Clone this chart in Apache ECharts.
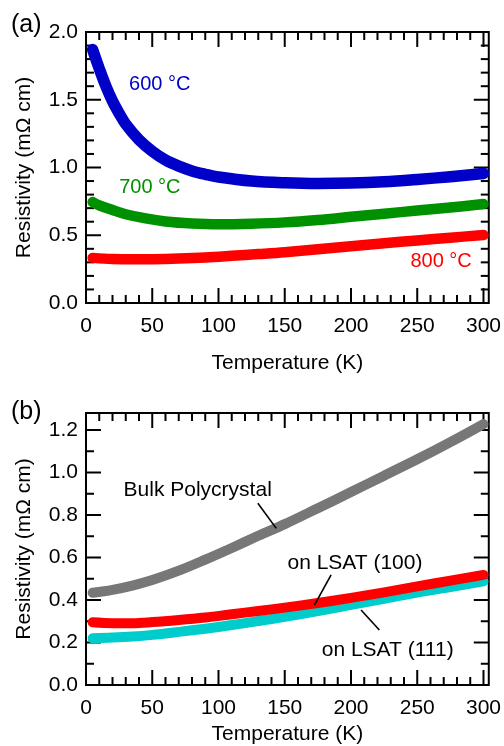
<!DOCTYPE html>
<html>
<head>
<meta charset="utf-8">
<script src="https://cdn.jsdelivr.net/npm/echarts@6/dist/echarts.min.js"></script>
<style>
html,body{margin:0;padding:0;background:#fff;}
#chart{width:504px;height:746px;}
</style>
</head>
<body>
<div id="chart"></div>
<script>
// ---------- Data ----------
// Panel (a): films grown at different temperatures
const tempA600 = [5, 10, 15, 20, 25, 30, 40, 50, 60, 70, 80, 90, 100, 125, 150, 175, 200, 225, 250, 275, 300];
const rho600   = [1.87, 1.73, 1.60, 1.49, 1.40, 1.32, 1.205, 1.12, 1.055, 1.01, 0.975, 0.95, 0.93, 0.90, 0.887, 0.882, 0.885, 0.895, 0.912, 0.932, 0.956];

const tempA700 = [5, 10, 20, 30, 45, 60, 80, 100, 125, 150, 175, 200, 225, 250, 275, 300];
const rho700   = [0.745, 0.72, 0.686, 0.655, 0.624, 0.602, 0.587, 0.581, 0.585, 0.595, 0.613, 0.636, 0.659, 0.682, 0.705, 0.73];

const tempA800 = [5, 20, 35, 50, 70, 90, 110, 130, 150, 175, 200, 225, 250, 275, 300];
const rho800   = [0.333, 0.325, 0.322, 0.323, 0.328, 0.336, 0.348, 0.361, 0.375, 0.397, 0.419, 0.441, 0.462, 0.482, 0.502];

// Panel (b): bulk vs. films on LSAT
const tempB      = [5, 20, 35, 50, 70, 90, 110, 130, 150, 175, 200, 225, 250, 275, 300];
const rhoBulk    = [0.434, 0.448, 0.468, 0.494, 0.538, 0.59, 0.645, 0.702, 0.757, 0.832, 0.908, 0.985, 1.062, 1.143, 1.228];
const rhoLsat100 = [0.295, 0.291, 0.291, 0.296, 0.306, 0.318, 0.333, 0.348, 0.364, 0.386, 0.41, 0.436, 0.464, 0.491, 0.518];
const rhoLsat111 = [0.22, 0.223, 0.228, 0.236, 0.25, 0.265, 0.282, 0.301, 0.321, 0.348, 0.377, 0.406, 0.435, 0.461, 0.488];

// Axis settings / tick values
const xMin = 0, xMax = 304, xInterval = 50, xMinorStep = 10, xLastTick = 300;
const yMinA = 0, yMaxA = 2.0, yIntervalA = 0.5, yMinorStepA = 0.1, yLastTickA = 2.0;
const yMinB = 0, yMaxB = 1.28, yIntervalB = 0.2, yMinorStepB = 0.1, yLastTickB = 1.2;

// Annotations [text, T, rho, colour]
const labelsA = [["600 °C", 55.7, 1.614, "#0000C8"], ["700 °C", 48.2, 0.854, "#009100"], ["800 °C", 268, 0.308, "#FF0000"]];
const labelsB = [["Bulk Polycrystal", 84.3, 0.918], ["on LSAT (100)", 203, 0.574], ["on LSAT (111)", 227.7, 0.165]];
const leadersB = [[[129.7, 0.855], [143.6, 0.737]], [[185, 0.518], [172.4, 0.376]], [[207.6, 0.353], [221.4, 0.259]]];

// ---------- Chart ----------
const FONT = "'Liberation Sans', Arial, sans-serif";
const zip = (xs, ys) => xs.map((x, i) => [x, ys[i]]);
const onTick = (v, step) => Math.abs(v / step - Math.round(v / step)) < 1e-6;
const MAJOR_LEN = 15, MINOR_LEN = 8;

function tickItems(yMin, yLast, yMajor, yMinor) {
  const items = [];
  const nx = Math.round(xLastTick / xMinorStep);
  for (let i = 0; i <= nx; i++) {
    const v = +(xMin + i * xMinorStep).toFixed(6);
    const major = onTick(v, xInterval) ? 1 : 0;
    items.push([0, v, major], [1, v, major]);
  }
  const ny = Math.round((yLast - yMin) / yMinor);
  for (let i = 0; i <= ny; i++) {
    const v = +(yMin + i * yMinor).toFixed(6);
    const major = onTick(v, yMajor) ? 1 : 0;
    items.push([2, v, major], [3, v, major]);
  }
  return items;
}
function tickSeries(xi, yi, yMin, yMax, yLast, yMajor, yMinor) {
  return {
    type: 'custom', xAxisIndex: xi, yAxisIndex: yi, clip: false, silent: true, z: 1,
    animation: false, encode: { x: 1, y: 1 },
    data: tickItems(yMin, yLast, yMajor, yMinor),
    renderItem: function (params, api) {
      const side = api.value(0), v = api.value(1), len = api.value(2) ? MAJOR_LEN : MINOR_LEN;
      let p, q;
      if (side === 0) { p = api.coord([v, yMin]); q = [p[0], p[1] - len]; }
      else if (side === 1) { p = api.coord([v, yMax]); q = [p[0], p[1] + len]; }
      else if (side === 2) { p = api.coord([xMin, v]); q = [p[0] + len, p[1]]; }
      else { p = api.coord([xMax, v]); q = [p[0] - len, p[1]]; }
      return { type: 'line', shape: { x1: p[0], y1: p[1], x2: q[0], y2: q[1] },
        style: { stroke: '#000', lineWidth: 2, lineCap: 'butt' } };
    }
  };
}
function xAxis(grid, nameGap) {
  return { type: 'value', gridIndex: grid, position: 'bottom', min: xMin, max: xMax, interval: xInterval,
    axisLine: { show: false }, axisTick: { show: false }, minorTick: { show: false },
    splitLine: { show: false },
    axisLabel: { show: true, color: '#000', fontSize: 21, fontFamily: FONT, margin: 13,
      formatter: v => onTick(v, xInterval) ? String(v) : '' },
    name: 'Temperature (K)', nameLocation: 'middle', nameGap: nameGap,
    nameTextStyle: { color: '#000', fontSize: 21, fontFamily: FONT } };
}
function yAxis(grid, min, max, interval) {
  return { type: 'value', gridIndex: grid, position: 'left', min: min, max: max, interval: interval,
    axisLine: { show: false }, axisTick: { show: false }, minorTick: { show: false },
    splitLine: { show: false },
    axisLabel: { show: true, color: '#000', fontSize: 21, fontFamily: FONT, margin: 8,
      formatter: v => onTick(v, interval) ? v.toFixed(1) : '' },
    name: 'Resistivity (mΩ cm)', nameLocation: 'middle', nameGap: 51,
    nameTextStyle: { color: '#000', fontSize: 21, fontFamily: FONT } };
}
function line(name, data, color, width, xi, yi, extra) {
  return Object.assign({ name: name, type: 'line', xAxisIndex: xi, yAxisIndex: yi, data: data,
    smooth: 0.35, showSymbol: false, symbol: 'none', animation: false, z: 3,
    lineStyle: { color: color, width: width, cap: 'round', join: 'round' } }, extra || {});
}

const chart = echarts.init(document.getElementById('chart'));
const gridStyle = { show: true, borderColor: '#000', borderWidth: 2, backgroundColor: 'transparent' };
chart.setOption({
  backgroundColor: '#fff',
  animation: false,
  grid: [
    Object.assign({ left: 86, right: 14.5, top: 32, bottom: 443 }, gridStyle),
    Object.assign({ left: 86, right: 14.5, top: 413, bottom: 61 }, gridStyle)
  ],
  xAxis: [xAxis(0, 50), xAxis(1, 39)],
  yAxis: [yAxis(0, yMinA, yMaxA, yIntervalA), yAxis(1, yMinB, yMaxB, yIntervalB)],
  series: [
    line('600', zip(tempA600, rho600), '#0000C8', 11.5, 0, 0),
    line('700', zip(tempA700, rho700), '#009100', 10.5, 0, 0),
    line('800', zip(tempA800, rho800), '#FF0000', 10.5, 0, 0),
    line('bulk', zip(tempB, rhoBulk), '#777777', 10, 1, 1, {
      markLine: { symbol: 'none', silent: true, animation: false, label: { show: false },
        emphasis: { disabled: true },
        lineStyle: { color: '#000', width: 1.6, type: 'solid' },
        data: leadersB.map(p => [{ coord: p[0] }, { coord: p[1] }]) } }),
    line('111', zip(tempB, rhoLsat111), '#00CCCC', 10, 1, 1),
    line('100', zip(tempB, rhoLsat100), '#FF0000', 10, 1, 1),
    tickSeries(0, 0, yMinA, yMaxA, yLastTickA, yIntervalA, yMinorStepA),
    tickSeries(1, 1, yMinB, yMaxB, yLastTickB, yIntervalB, yMinorStepB)
  ]
});

const graphics = [
  { type: 'text', left: 11, top: 13, style: { text: '(a)', font: '25px ' + FONT, fill: '#000' } },
  { type: 'text', left: 11, top: 400, style: { text: '(b)', font: '25px ' + FONT, fill: '#000' } }
];
labelsA.forEach(l => {
  const p = chart.convertToPixel({ xAxisIndex: 0, yAxisIndex: 0 }, [l[1], l[2]]);
  graphics.push({ type: 'text', x: p[0], y: p[1], style: { text: l[0], font: '20px ' + FONT, fill: l[3], align: 'center', verticalAlign: 'middle' } });
});
labelsB.forEach(l => {
  const p = chart.convertToPixel({ xAxisIndex: 1, yAxisIndex: 1 }, [l[1], l[2]]);
  graphics.push({ type: 'text', x: p[0], y: p[1], style: { text: l[0], font: '21px ' + FONT, fill: '#000', align: 'center', verticalAlign: 'middle' } });
});
chart.setOption({ graphic: graphics });
</script>
</body>
</html>
